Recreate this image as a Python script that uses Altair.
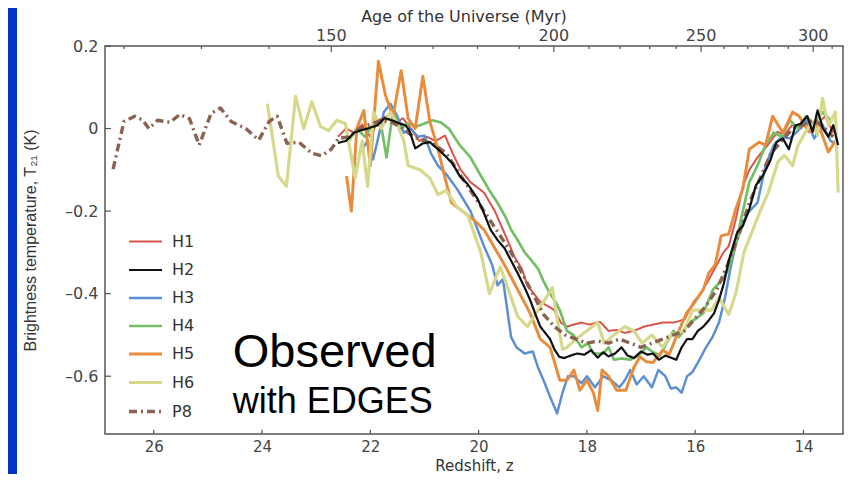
import altair as alt
import pandas as pd

# ---------------- data ----------------
series_names = ["H1", "H2", "H3", "H4", "H5", "H6", "P8"]
series_colors = ["#d9534a", "#111111", "#5b8fd4", "#74bf66", "#e98b3a", "#d6d88c", "#8a6252"]
series_widths = [2.0, 3.4, 2.0, 2.0, 2.0, 2.0, 1.8]
series_dashes = [[1, 0], [1, 0], [1, 0], [1, 0], [1, 0], [1, 0], [8, 4, 2, 4]]

h1_z = [22.6, 22.45, 22.3, 22.15, 22.0, 21.85, 21.7, 21.55, 21.4, 21.25, 21.1, 20.95, 20.8, 20.62, 20.48,
        20.33, 20.15, 19.9, 19.7, 19.5, 19.34, 19.2, 19.1, 18.98, 18.86, 18.72, 18.6, 18.48, 18.37, 18.25,
        18.1, 17.95, 17.76, 17.6, 17.45, 17.3, 17.13, 16.95, 16.78, 16.6, 16.4, 16.2, 16.03, 15.9, 15.75,
        15.6, 15.48, 15.38, 15.25, 15.12, 15.0, 14.85, 14.66, 14.48, 14.35, 14.2, 14.05, 13.9, 13.75, 13.6, 13.45]
h1_t = [-0.02, 0.0, -0.01, 0.01, -0.02, 0.02, 0.03, 0.01, 0.025, 0.0, -0.03, -0.02, -0.03, -0.017, -0.06,
        -0.1, -0.13, -0.155, -0.2, -0.26, -0.31, -0.34, -0.38, -0.40, -0.42, -0.43, -0.44, -0.47, -0.48, -0.475,
        -0.47, -0.475, -0.468, -0.49, -0.488, -0.495, -0.49, -0.48, -0.475, -0.47, -0.47, -0.463, -0.42, -0.40, -0.366,
        -0.33, -0.3, -0.285, -0.22, -0.14, -0.1, -0.07, -0.04, -0.008, -0.015, 0.01, 0.0, 0.02, 0.01, 0.03, -0.01]

h2_z = [22.6, 22.45, 22.3, 22.2, 22.05, 21.87, 21.74, 21.6, 21.45, 21.35, 21.28, 21.17, 21.03, 20.9, 20.75,
        20.62, 20.48, 20.35, 20.2, 20.02, 19.9, 19.78, 19.65, 19.52, 19.4, 19.28, 19.15, 19.05, 18.95, 18.86,
        18.77, 18.68, 18.6, 18.51, 18.42, 18.3, 18.18, 18.05, 17.92, 17.8, 17.7, 17.6, 17.48, 17.36, 17.25,
        17.13, 17.0, 16.88, 16.78, 16.67, 16.55, 16.45, 16.35, 16.25, 16.15, 16.05, 15.95, 15.85, 15.75, 15.65,
        15.56, 15.47, 15.38, 15.3, 15.22, 15.12, 15.0, 14.88, 14.75, 14.62, 14.5, 14.38, 14.27, 14.15, 14.05,
        13.93, 13.83, 13.74, 13.64, 13.54, 13.45, 13.36]
h2_t = [-0.035, -0.03, -0.01, -0.005, 0.0, 0.008, 0.025, 0.02, 0.012, 0.008, -0.004, -0.048, -0.036, -0.033, -0.05,
        -0.066, -0.085, -0.115, -0.135, -0.17, -0.205, -0.245, -0.27, -0.29, -0.32, -0.35, -0.385, -0.415, -0.45, -0.48,
        -0.495, -0.51, -0.535, -0.553, -0.556, -0.55, -0.545, -0.548, -0.537, -0.555, -0.542, -0.552, -0.545, -0.53, -0.55,
        -0.556, -0.54, -0.548, -0.545, -0.56, -0.55, -0.555, -0.56, -0.53, -0.51, -0.51, -0.49, -0.48, -0.465, -0.447,
        -0.415, -0.375, -0.32, -0.285, -0.25, -0.236, -0.195, -0.138, -0.114, -0.08, -0.033, -0.024, -0.05, 0.007, 0.012,
        0.03, -0.008, 0.044, 0.0, -0.02, 0.008, -0.04]

h3_z = [22.2, 22.05, 21.95, 21.85, 21.75, 21.63, 21.5, 21.38, 21.25, 21.12, 21.0, 20.88, 20.75, 20.6, 20.4,
        20.15, 19.9, 19.75, 19.65, 19.55, 19.4, 19.3, 19.15, 19.0, 18.9, 18.8, 18.68, 18.55, 18.45, 18.35,
        18.24, 18.1, 18.0, 17.85, 17.7, 17.55, 17.4, 17.3, 17.2, 17.08, 16.95, 16.8, 16.68, 16.55, 16.45,
        16.35, 16.25, 16.15, 16.05, 15.92, 15.8, 15.68, 15.56, 15.45, 15.35, 15.25, 15.12, 15.0, 14.85, 14.7,
        14.55, 14.4, 14.25, 14.1, 13.95, 13.8, 13.65, 13.5, 13.38]
h3_t = [-0.06, -0.03, -0.075, -0.02, 0.04, 0.06, 0.03, -0.01, 0.0, -0.02, -0.017, -0.06, -0.09, -0.11, -0.146,
        -0.2, -0.285, -0.33, -0.38, -0.365, -0.505, -0.53, -0.545, -0.54, -0.58, -0.61, -0.65, -0.69, -0.64, -0.6,
        -0.6, -0.617, -0.6, -0.627, -0.6, -0.61, -0.627, -0.61, -0.585, -0.62, -0.6, -0.627, -0.585, -0.6, -0.63,
        -0.627, -0.64, -0.6, -0.59, -0.56, -0.53, -0.505, -0.47, -0.41, -0.34, -0.28, -0.227, -0.2, -0.18, -0.09,
        -0.04, -0.02, -0.024, -0.005, 0.02, -0.024, 0.01, -0.03, -0.04]

h4_z = [22.4, 22.25, 22.1, 21.95, 21.8, 21.7, 21.58, 21.45, 21.3, 21.15, 21.0, 20.85, 20.7, 20.55, 20.35,
        20.15, 19.96, 19.8, 19.65, 19.5, 19.4, 19.28, 19.15, 19.02, 18.9, 18.8, 18.68, 18.58, 18.5, 18.37,
        18.25, 18.1, 17.98, 17.88, 17.7, 17.6, 17.5, 17.35, 17.2, 17.05, 16.9, 16.8, 16.65, 16.53, 16.4,
        16.3, 16.1, 15.95, 15.85, 15.67, 15.5, 15.38, 15.25, 15.12, 15.0, 14.85, 14.7, 14.55, 14.4, 14.25,
        14.1, 13.95, 13.8, 13.65, 13.5]
h4_t = [-0.03, 0.0, -0.02, 0.01, 0.007, -0.07, 0.044, 0.0, 0.012, 0.005, 0.012, 0.02, 0.015, 0.0, -0.04,
        -0.07, -0.114, -0.15, -0.18, -0.215, -0.245, -0.27, -0.3, -0.32, -0.34, -0.37, -0.4, -0.42, -0.44, -0.49,
        -0.5, -0.53, -0.52, -0.545, -0.545, -0.53, -0.56, -0.557, -0.56, -0.55, -0.53, -0.54, -0.55, -0.52, -0.49,
        -0.505, -0.47, -0.457, -0.447, -0.39, -0.366, -0.34, -0.28, -0.2, -0.13, -0.09, -0.04, -0.01, -0.02, 0.02,
        0.0, 0.03, 0.01, 0.04, 0.02]

h5_z = [22.44, 22.35, 22.25, 22.12, 22.0, 21.85, 21.72, 21.58, 21.43, 21.3, 21.17, 21.03, 20.9, 20.75, 20.63,
        20.55, 20.5, 20.3, 20.1, 19.9, 19.7, 19.5, 19.28, 19.05, 18.86, 18.68, 18.5, 18.37, 18.24, 18.13,
        18.0, 17.88, 17.8, 17.72, 17.6, 17.45, 17.28, 17.13, 17.02, 16.9, 16.78, 16.6, 16.48, 16.35, 16.16,
        16.03, 15.85, 15.75, 15.63, 15.52, 15.38, 15.25, 15.12, 15.0, 14.82, 14.7, 14.57, 14.38, 14.2, 14.08,
        13.9, 13.72, 13.54, 13.41]
h5_t = [-0.115, -0.2, 0.0, 0.044, -0.09, 0.163, 0.08, 0.03, 0.14, 0.024, 0.0, 0.127, 0.017, -0.05, -0.115,
        -0.155, -0.18, -0.2, -0.22, -0.245, -0.29, -0.335, -0.39, -0.447, -0.51, -0.53, -0.61, -0.61, -0.585, -0.634,
        -0.61, -0.64, -0.683, -0.585, -0.6, -0.634, -0.634, -0.578, -0.553, -0.565, -0.567, -0.537, -0.547, -0.505, -0.447,
        -0.425, -0.39, -0.35, -0.33, -0.26, -0.255, -0.195, -0.146, -0.05, -0.033, -0.04, 0.03, -0.01, 0.04, 0.03,
        -0.008, 0.01, -0.057, -0.03]

h6_z = [23.9, 23.7, 23.55, 23.38, 23.23, 23.08, 22.92, 22.77, 22.62, 22.46, 22.28, 22.15, 22.05, 21.94, 21.8,
        21.63, 21.5, 21.38, 21.3, 21.08, 20.9, 20.75, 20.6, 20.4, 20.2, 19.96, 19.8, 19.6, 19.45, 19.28,
        19.1, 18.95, 18.8, 18.64, 18.55, 18.45, 18.37, 18.2, 18.0, 17.8, 17.68, 17.5, 17.3, 17.13, 16.98,
        16.8, 16.6, 16.45, 16.35, 16.2, 16.05, 15.93, 15.7, 15.56, 15.38, 15.25, 15.1, 14.95, 14.8, 14.65,
        14.47, 14.35, 14.2, 14.1, 13.96, 13.83, 13.74, 13.65, 13.54, 13.41, 13.36]
h6_t = [0.06, -0.115, -0.14, 0.078, 0.0, 0.065, 0.005, -0.005, 0.02, 0.012, -0.12, -0.03, -0.14, 0.04, 0.0,
        0.04, 0.01, -0.03, -0.09, -0.1, -0.12, -0.16, -0.15, -0.19, -0.21, -0.3, -0.40, -0.335, -0.39, -0.455,
        -0.48, -0.45, -0.42, -0.385, -0.46, -0.535, -0.53, -0.51, -0.49, -0.47, -0.52, -0.5, -0.48, -0.49, -0.52,
        -0.5, -0.53, -0.5, -0.495, -0.49, -0.44, -0.44, -0.44, -0.41, -0.45, -0.40, -0.3, -0.25, -0.2, -0.155,
        -0.08, -0.065, -0.09, -0.04, -0.008, 0.017, -0.016, 0.073, 0.007, 0.04, -0.155]

p8_z = [26.75, 26.55, 26.35, 26.2, 26.09, 25.93, 25.7, 25.52, 25.34, 25.16, 24.94, 24.77, 24.57, 24.3, 24.06,
        23.87, 23.72, 23.54, 23.32, 23.08, 22.9, 22.72, 22.59, 22.4, 22.2, 22.0, 21.8, 21.6, 21.4, 21.2,
        21.0, 20.8, 20.6, 20.4, 20.2, 20.0, 19.8, 19.6, 19.4, 19.2, 19.0, 18.8, 18.6, 18.4, 18.2,
        18.0, 17.8, 17.6, 17.4, 17.2, 17.0, 16.8, 16.6, 16.4, 16.2, 16.0, 15.8, 15.6, 15.4, 15.2,
        15.0, 14.8, 14.6, 14.4, 14.2, 14.0, 13.8, 13.6, 13.45]
p8_t = [-0.098, 0.017, 0.03, 0.02, 0.0, 0.02, 0.015, 0.034, 0.024, -0.04, 0.037, 0.05, 0.017, 0.0, -0.028,
        0.017, 0.03, -0.036, -0.033, -0.06, -0.066, -0.05, -0.024, -0.02, 0.0, 0.01, 0.02, 0.015, 0.0, -0.02,
        -0.03, -0.04, -0.06, -0.1, -0.14, -0.18, -0.22, -0.26, -0.3, -0.35, -0.4, -0.45, -0.48, -0.5, -0.51,
        -0.52, -0.515, -0.52, -0.51, -0.52, -0.53, -0.52, -0.51, -0.5, -0.49, -0.46, -0.43, -0.39, -0.33, -0.26,
        -0.18, -0.12, -0.06, -0.03, 0.0, 0.01, 0.02, 0.0, -0.02]

bottom_ticks = [26, 24, 22, 20, 18, 16, 14]
left_ticks = [0.2, 0.0, -0.2, -0.4, -0.6]
top_major_age = [150, 200, 250, 300]
top_major_z = [22.72, 18.61, 15.89, 13.82]
top_minor_age = [120, 130, 140, 160, 170, 180, 190, 210, 220, 230, 240, 260, 270, 280, 290, 310]
top_minor_z = [26.55, 25.12, 23.87, 21.72, 20.84, 20.02, 19.25, 17.96, 17.39, 16.84, 16.35, 15.47, 15.03,
               14.64, 14.28, 13.47]

# ---------------- build table ----------------
series_data = {"H1": (h1_z, h1_t), "H2": (h2_z, h2_t), "H3": (h3_z, h3_t), "H4": (h4_z, h4_t),
               "H5": (h5_z, h5_t), "H6": (h6_z, h6_t), "P8": (p8_z, p8_t)}
rows = []
for name in series_names:
    zs, ts = series_data[name]
    for z, t in zip(zs, ts):
        rows.append({"series": name, "z": z, "T": t})
df = pd.DataFrame(rows)

# ---------------- layout / style ----------------
W, H = 738, 388
PAD_T, PAD_B = 38, 40
Z_MIN, Z_MAX = 13.27, 26.9
T_MIN, T_MAX = -0.74, 0.2
FIG_FONT = "DejaVu Sans"
SLIDE_FONT = "Liberation Sans"
AX = "#555555"
LBL = "#444444"
XT = "Redshift, z"
YT = "Brightness temperature, T₂₁ (K)"

xs = alt.Scale(domain=[Z_MIN, Z_MAX], reverse=True, nice=False, zero=False)
ys = alt.Scale(domain=[T_MIN, T_MAX], nice=False, zero=False)

x_axis = alt.Axis(values=bottom_ticks, format="d", title=XT, labelPadding=5,
                  titlePadding=4, labelFont=FIG_FONT, labelFontSize=15, labelColor=LBL,
                  titleFont=FIG_FONT, titleFontSize=15, titleColor="#333333",
                  titleFontWeight="normal", domain=False, ticks=False, grid=False)
y_axis = alt.Axis(values=left_ticks,
                  labelExpr="datum.value == 0 ? '0' : (datum.value < 0 ? '–' : '') + format(abs(datum.value), '.1f')",
                  title=YT, labelPadding=7, titlePadding=26,
                  labelFont=FIG_FONT, labelFontSize=16, labelColor=LBL,
                  titleFont=SLIDE_FONT, titleFontSize=16, titleColor="#333333",
                  titleFontWeight="normal", domain=False, ticks=False, grid=False)

legend = alt.Legend(title=None, orient="none", legendX=22, legendY=178, symbolType="stroke",
                    symbolSize=1089, labelFontSize=16, labelFont=FIG_FONT, labelColor="#333333",
                    rowPadding=2, padding=0, labelOffset=8)


def X(field):
    return alt.X(field, scale=xs, axis=x_axis, title=XT)


def Y(field):
    return alt.Y(field, scale=ys, axis=y_axis, title=YT)


def XD(v):
    return alt.XDatum(v, scale=xs, axis=x_axis, title=XT)


def YD(v):
    return alt.YDatum(v, scale=ys, axis=y_axis, title=YT)


enc = dict(
    x=X("z:Q"),
    y=Y("T:Q"),
    color=alt.Color("series:N", scale=alt.Scale(domain=series_names, range=series_colors), legend=legend),
    strokeWidth=alt.StrokeWidth("series:N", scale=alt.Scale(domain=series_names, range=series_widths),
                                legend=legend),
    strokeDash=alt.StrokeDash("series:N", scale=alt.Scale(domain=series_names, range=series_dashes),
                              legend=legend),
)

base = alt.Chart(df).mark_line(strokeJoin="round")
lines_other = base.transform_filter("datum.series != 'H2'").encode(**enc)
lines_h2 = base.transform_filter("datum.series == 'H2'").encode(**enc)

# inward ticks
bt = alt.Chart(pd.DataFrame({"z": bottom_ticks})).mark_rule(color=AX, strokeWidth=1.2).encode(
    x=X("z:Q"), y=YD(T_MIN), y2=alt.datum(T_MIN + 0.010))
lt = alt.Chart(pd.DataFrame({"T": left_ticks})).mark_rule(color=AX, strokeWidth=1.2).encode(
    y=Y("T:Q"), x=XD(Z_MAX), x2=alt.datum(Z_MAX - 0.11))
tmaj = alt.Chart(pd.DataFrame({"z": top_major_z, "age": top_major_age})).mark_rule(color=AX, strokeWidth=1.2).encode(
    x=X("z:Q"), y=YD(T_MAX), y2=alt.datum(T_MAX - 0.0145))
tmin = alt.Chart(pd.DataFrame({"z": top_minor_z, "age": top_minor_age})).mark_rule(color=AX, strokeWidth=1.2).encode(
    x=X("z:Q"), y=YD(T_MAX), y2=alt.datum(T_MAX - 0.0075))
tlabels = alt.Chart(pd.DataFrame({"z": top_major_z, "age": top_major_age})).mark_text(
    font=FIG_FONT, fontSize=16, color=LBL, dy=-10, baseline="middle").encode(
    x=X("z:Q"), y=YD(T_MAX), text="age:N")

top_title = alt.Chart(pd.DataFrame({"t": ["Age of the Universe (Myr)"]})).mark_text(
    font=FIG_FONT, fontSize=16, color="#333333", baseline="middle").encode(
    x=alt.value(W / 2 - 10), y=alt.value(-29), text="t:N")

obs1 = alt.Chart(pd.DataFrame({"t": ["Observed"]})).mark_text(
    font=SLIDE_FONT, fontSize=47, color="black", align="left", baseline="alphabetic").encode(
    x=XD(24.54), y=YD(-0.578), text="t:N")
obs2 = alt.Chart(pd.DataFrame({"t": ["with EDGES"]})).mark_text(
    font=SLIDE_FONT, fontSize=36, color="black", align="left", baseline="alphabetic").encode(
    x=XD(24.54), y=YD(-0.689), text="t:N")

blue_strip = alt.Chart(pd.DataFrame({"a": [0]})).mark_rect(color="#0433c9").encode(
    x=alt.value(-97), x2=alt.value(-88), y=alt.value(-PAD_T), y2=alt.value(H + PAD_B))

chart = alt.layer(
    blue_strip, lines_other, lines_h2, bt, lt, tmaj, tmin, tlabels, top_title, obs1, obs2
).properties(
    width=W, height=H,
    padding={"left": 97, "top": PAD_T, "right": 1, "bottom": PAD_B},
    autosize=alt.AutoSizeParams(type="none"),
    background="white",
).configure_view(
    stroke=AX, strokeWidth=1.5
)

chart.save("out.html", embed_options={"renderer": "svg", "actions": False})
